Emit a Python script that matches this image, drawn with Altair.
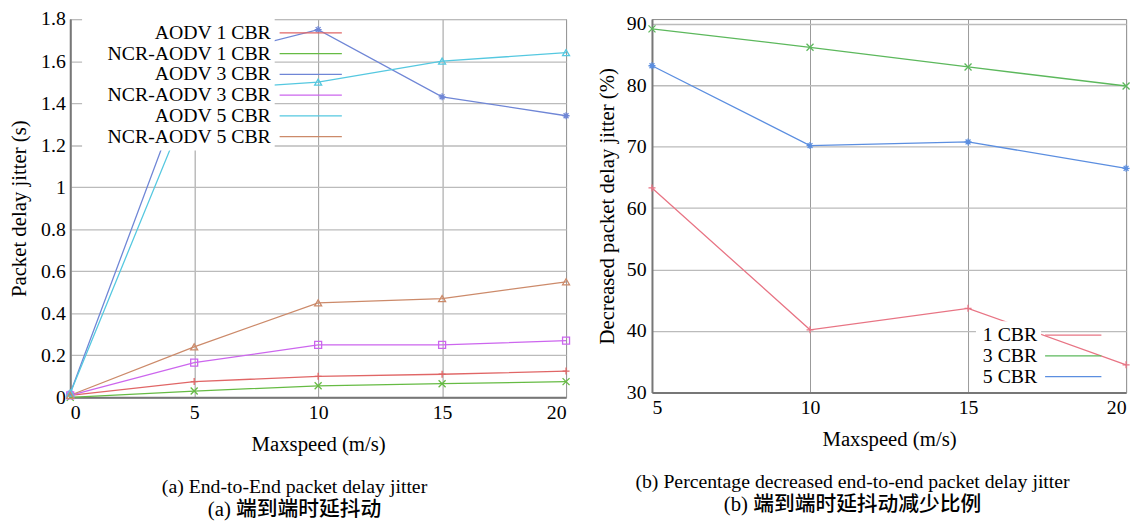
import altair as alt
import pandas as pd

# ---------------- data (a) ----------------
speed_a = [0, 5, 10, 15, 20]
series_a = ["AODV 1 CBR", "NCR-AODV 1 CBR", "AODV 3 CBR",
            "NCR-AODV 3 CBR", "AODV 5 CBR", "NCR-AODV 5 CBR"]
keys_a = ["ka1", "ka2", "ka3", "ka4", "ka5", "ka6"]
marks_a = ["sa1", "sa2", "sa3", "sa4", "sa5", "sa6"]
aodv_1 = [0.01, 0.075, 0.10, 0.11, 0.125]
ncr_1 = [0.0, 0.03, 0.055, 0.065, 0.075]
aodv_3 = [0.02, 1.60, 1.75, 1.43, 1.34]
ncr_3 = [0.01, 0.165, 0.25, 0.25, 0.27]
aodv_5 = [0.02, 1.46, 1.50, 1.60, 1.64]
ncr_5 = [0.01, 0.24, 0.45, 0.47, 0.55]
yticks_a = [0, 0.2, 0.4, 0.6, 0.8, 1, 1.2, 1.4, 1.6, 1.8]

# ---------------- data (b) ----------------
speed_b = [5, 10, 15, 20]
series_b = ["1 CBR", "3 CBR", "5 CBR"]
keys_b = ["kb1", "kb2", "kb3"]
marks_b = ["sb1", "sb2", "sb3"]
dec_1 = [63.3, 40.2, 43.7, 34.5]
dec_3 = [89.2, 86.2, 83.0, 79.9]
dec_5 = [83.2, 70.2, 70.8, 66.5]
yticks_b = [30, 40, 50, 60, 70, 80, 90]

colors_a = ["#e06666", "#66bb44", "#6f86d6", "#cc66ee", "#55c8e0", "#cc8a6a"]
colors_b = ["#e87484", "#5cb85c", "#5b8ee0"]

PLUS = "M-1,0L1,0M0,-1L0,1"
XSH = "M-1,-1L1,1M-1,1L1,-1"
STAR = "M-1,0L1,0M0,-1L0,1M-0.7,-0.7L0.7,0.7M-0.7,0.7L0.7,-0.7"
shapes_a = [PLUS, XSH, STAR, "square", "triangle-up", "triangle-up"]
shapes_b = [PLUS, XSH, STAR]


def long_table(names, keys, marks, xs, series_vals):
    rows = []
    for name, k, m, vals in zip(names, keys, marks, series_vals):
        for s, v in zip(xs, vals):
            rows.append({"series": name, "key": k, "mk": m, "speed": s, "value": v})
    return pd.DataFrame(rows)


df_a = long_table(series_a, keys_a, marks_a, speed_a,
                  [aodv_1, ncr_1, aodv_3, ncr_3, aodv_5, ncr_5])
df_b = long_table(series_b, keys_b, marks_b, speed_b, [dec_1, dec_3, dec_5])

SERIF = "Liberation Serif"
CJK = "Liberation Serif, Noto Sans CJK SC"


def axis_x(values, title):
    return alt.Axis(values=values, title=title, labelFlush=True, labelFlushOffset=0,
                    ticks=False, labelPadding=5, titlePadding=12,
                    labelFont=SERIF, labelFontSize=20, labelColor="black",
                    titleFont=SERIF, titleFontSize=21, titleFontWeight="normal",
                    titleColor="black", domainColor="#777", domainWidth=2,
                    gridColor="#999", gridWidth=1)


def axis_y(values, title, fmt, tpad, lpad):
    return alt.Axis(values=values, title=title, format=fmt, ticks=False,
                    labelPadding=lpad, titlePadding=tpad,
                    labelFont=SERIF, labelFontSize=20, labelColor="black",
                    titleFont=SERIF, titleFontSize=21, titleFontWeight="normal",
                    titleColor="black", domainColor="#777", domainWidth=2,
                    gridColor="#bbbbbb", gridWidth=1.3)


def label_legend(x, y, lab_off):
    # right-aligned labels on an opaque white box (symbols hidden)
    return alt.Legend(title=None, orient="none", legendX=x, legendY=y,
                      symbolType="circle", symbolSize=1, symbolOpacity=0,
                      labelAlign="right", labelOffset=lab_off, symbolOffset=0,
                      labelFont=SERIF, labelFontSize=20, labelColor="black",
                      labelLimit=400, rowPadding=1,
                      fillColor="white", padding=4)


def symbol_legend(x, y, lab_off, sym_path):
    # line symbols drawn to the right of the labels (custom path in pixels)
    return alt.Legend(title=None, orient="none", legendX=x, legendY=y,
                      symbolType=sym_path, symbolSize=4, symbolStrokeWidth=1.3,
                      labelAlign="right", labelOffset=lab_off, symbolOffset=0,
                      labelExpr="''", labelFont=SERIF, labelFontSize=20,
                      labelLimit=400, rowPadding=1, padding=4)


def panel(df, names, keys, marks, colors, shapes, xdom, xticks, ydom, yticks,
          ytitle, yfmt, tpad, lpad, lx, ly, lab_off, sym_path):
    x = alt.X("speed:Q", scale=alt.Scale(domain=xdom, nice=False),
              axis=axis_x(xticks, "Maxspeed (m/s)"))
    y = alt.Y("value:Q", scale=alt.Scale(domain=ydom, nice=False),
              axis=axis_y(yticks, ytitle, yfmt, tpad, lpad))
    color = alt.Color("series:N", scale=alt.Scale(domain=names, range=colors),
                      legend=label_legend(lx, ly, lab_off))
    stroke = alt.Stroke("key:N", scale=alt.Scale(domain=keys, range=colors),
                        legend=symbol_legend(lx, ly, lab_off, sym_path))
    shape = alt.Shape("mk:N", scale=alt.Scale(domain=marks, range=shapes), legend=None)
    lines = alt.Chart(df).mark_line(strokeWidth=1.3).encode(x=x, y=y, color=color)
    pts = alt.Chart(df).mark_point(size=50, filled=False, strokeWidth=1.3, opacity=1).encode(
        x=x, y=y, stroke=stroke, shape=shape)
    return alt.layer(lines, pts)


chart_a = panel(df_a, series_a, keys_a, marks_a, colors_a, shapes_a, [0, 20], speed_a,
                [0, 1.8], yticks_a, "Packet delay jitter (s)", "~g", 11, 5,
                12, 0, 167, "M186,0L249,0").properties(
    width=502, height=383,
    title=alt.TitleParams(
        text="(a) End-to-End packet delay jitter",
        subtitle="(a)  端到端时延抖动",
        orient="bottom", anchor="middle", frame="bounds", offset=23, dx=4,
        font=SERIF, fontSize=20, fontWeight="normal", color="black",
        subtitleFont=CJK, subtitleFontSize=21, subtitleFontWeight=500,
        subtitleColor="black", subtitlePadding=2))

chart_b = panel(df_b, series_b, keys_b, marks_b, colors_b, shapes_b, [5, 20], speed_b,
                [30, 90.8], yticks_b, "Decreased packet delay jitter (%)", "d", 9, 6,
                328, 306, 38, "M56,0L113,0").properties(
    width=480, height=378,
    title=alt.TitleParams(
        text="(b) Percentage decreased end-to-end packet delay jitter",
        subtitle="(b)  端到端时延抖动减少比例",
        orient="bottom", anchor="middle", frame="bounds", offset=23, dx=-12,
        font=SERIF, fontSize=20, fontWeight="normal", color="black",
        subtitleFont=CJK, subtitleFontSize=21, subtitleFontWeight=500,
        subtitleColor="black", subtitlePadding=2))

chart = alt.hconcat(chart_a, chart_b, spacing=23).resolve_scale(
    color="independent", stroke="independent", shape="independent",
    x="independent", y="independent"
).properties(
    padding={"left": 0, "top": -3, "right": 0, "bottom": 0},
    background="white",
).configure_view(stroke="#888", strokeWidth=1)

chart.save("out.html", embed_options={"renderer": "svg", "actions": False})
